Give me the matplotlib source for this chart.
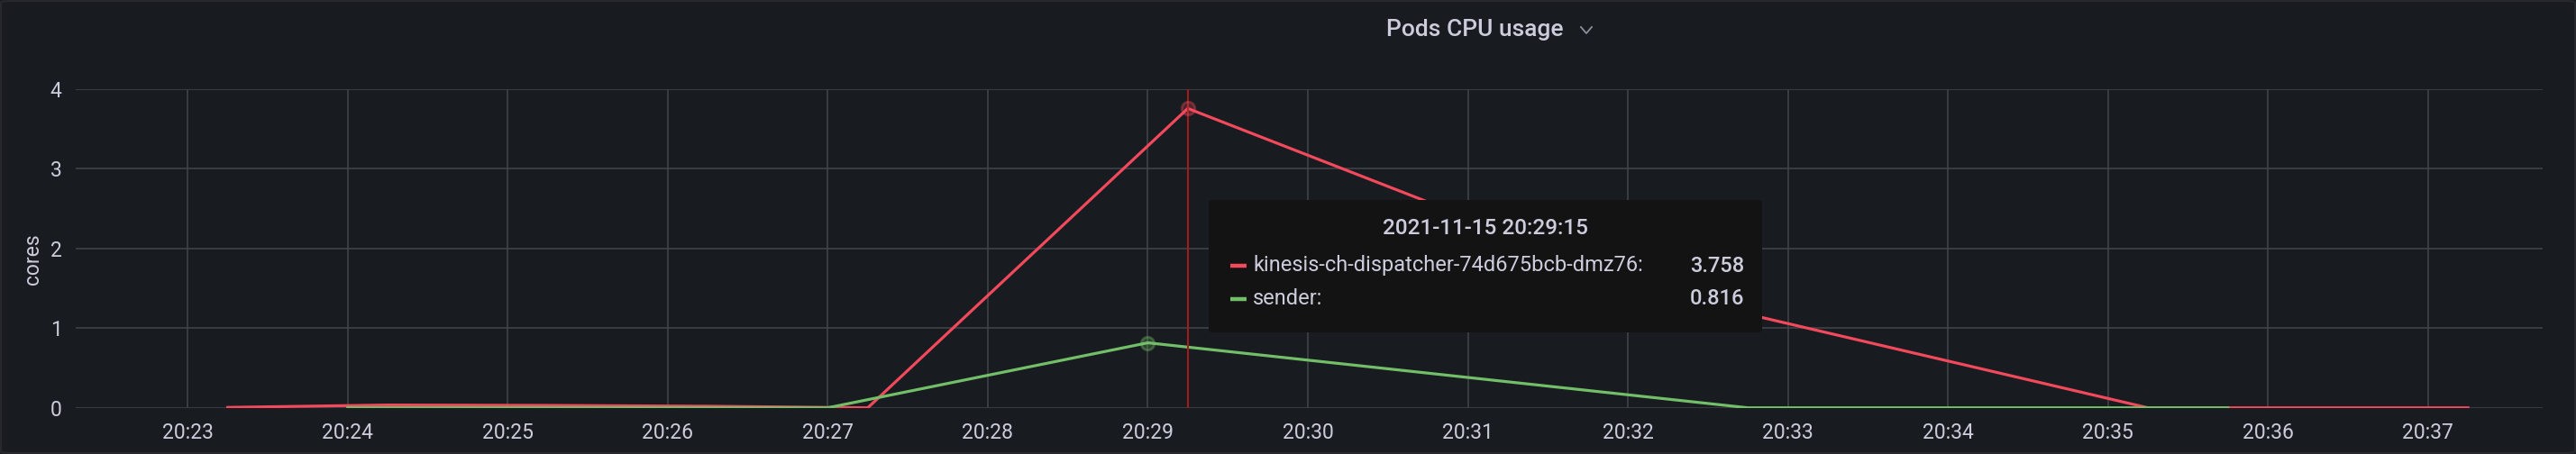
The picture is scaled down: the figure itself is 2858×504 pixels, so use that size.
import matplotlib
matplotlib.use("Agg")
import matplotlib.pyplot as plt
import matplotlib.dates as mdates
from matplotlib.patches import FancyBboxPatch
from matplotlib.lines import Line2D
import pandas as pd

# --- data (2021-11-15) ---
red_times = ["20:23:15", "20:24:15", "20:25:15", "20:26:15", "20:27:15",
             "20:29:15", "20:32:15", "20:35:15", "20:37:15"]
red_vals = [0.005, 0.035, 0.03, 0.02, 0.0, 3.758, 1.41, 0.0, 0.0]
green_times = ["20:24:00", "20:25:00", "20:26:00", "20:27:00", "20:29:00",
               "20:32:45", "20:35:45"]
green_vals = [0.0, 0.0, 0.0, 0.0, 0.816, 0.0, 0.0]
red_name = "kinesis-ch-dispatcher-74d675bcb-dmz76"
green_name = "sender"
hover_time = "20:29:15"
hover_vals = {"red": 3.758, "green": 0.816}
green_hover_time = "20:29:00"
x_start, x_end = "20:22:18", "20:37:43"
y_ticks = [0, 1, 2, 3, 4]

DAY = "2021-11-15 "
BG = "#181b1f"
TXT = "#ccccdc"
GRID = "#43454b"
RED = "#f2495c"
GREEN = "#73bf69"

plt.rcParams["font.family"] = ["Roboto", "DejaVu Sans"]


def ts(s):
    return pd.Timestamp(DAY + s)


W, H = 2858, 504
fig = plt.figure(figsize=(W / 100, H / 100), dpi=100, facecolor=BG)

# panel border
fig.add_artist(FancyBboxPatch((1 / W, 1 / H), 1 - 2 / W, 1 - 2 / H,
                              boxstyle="round,pad=0,rounding_size=0.004",
                              transform=fig.transFigure, fc="none",
                              ec="#26282d", lw=1.5))

ax = fig.add_axes([84 / W, 1 - 452.7 / H, (2821 - 84) / W, (452.7 - 99) / H])
ax.set_facecolor(BG)

ax.plot([ts(t) for t in red_times], red_vals, color=RED, lw=2.3,
        solid_joinstyle="round", zorder=3)
ax.plot([ts(t) for t in green_times], green_vals, color=GREEN, lw=2.3,
        solid_joinstyle="round", zorder=4)

# hover crosshair + point markers
ax.axvline(ts(hover_time), color="#a11d1d", lw=1.5, zorder=5)
ax.plot([ts(hover_time)], [hover_vals["red"]], "o", ms=10.5,
        mfc=(0.95, 0.29, 0.36, 0.25), mec=(0.95, 0.29, 0.36, 0.35), mew=2,
        zorder=6)
ax.plot([ts(green_hover_time)], [hover_vals["green"]], "o", ms=10.5,
        mfc=(0.45, 0.75, 0.41, 0.25), mec=(0.45, 0.75, 0.41, 0.35), mew=2,
        zorder=6)

ax.set_xlim(ts(x_start), ts(x_end))
ax.set_ylim(0, 4)
ax.set_yticks(y_ticks)
ax.xaxis.set_major_locator(mdates.MinuteLocator())
ax.xaxis.set_major_formatter(mdates.DateFormatter("%H:%M"))
ax.grid(True, color=GRID, lw=1.1)
ax.set_axisbelow(True)
for sp in ax.spines.values():
    sp.set_visible(False)
ax.tick_params(length=0, labelsize=16.5, colors=TXT, pad=12)
ax.tick_params(axis="y", pad=11)
fig.text(36 / W, 1 - 288 / H, "cores", color=TXT, fontsize=16.5,
         rotation=90, ha="center", va="center")

# title
fig.text(1636 / W, 1 - 33 / H, "Pods CPU usage", color=TXT, fontsize=19,
         fontweight="medium", ha="center", va="center")
cx, cy = 1760 / W, 1 - 34 / H
fig.add_artist(Line2D([cx - 6 / W, cx, cx + 6 / W], [cy + 4 / H, cy - 3 / H, cy + 4 / H],
                      transform=fig.transFigure, color="#8e8e9a", lw=1.3))

# tooltip
bx0, by0, bx1, by1 = 1341, 222, 1955, 369
fig.add_artist(FancyBboxPatch((bx0 / W, 1 - by1 / H), (bx1 - bx0) / W, (by1 - by0) / H,
                              boxstyle="round,pad=0,rounding_size=0.003",
                              transform=fig.transFigure, fc="#131314",
                              ec="none", zorder=10))
fig.text(1648 / W, 1 - 254 / H, DAY + hover_time, color=TXT, fontsize=17.5,
         fontweight="medium", ha="center", va="center", zorder=11)
rows = [(red_name, hover_vals["red"], RED, 295),
        (green_name, hover_vals["green"], GREEN, 332)]
for name, val, col, yy in rows:
    fig.add_artist(Line2D([1365 / W, 1383 / W], [1 - yy / H, 1 - yy / H],
                          transform=fig.transFigure, color=col, lw=3.2,
                          solid_capstyle="butt", zorder=11))
    fig.text(1390 / W, 1 - yy / H, name + ":", color=TXT, fontsize=17,
             ha="left", va="center", zorder=11)
    fig.text(1935 / W, 1 - yy / H, f"{val:.3f}", color=TXT, fontsize=17,
             fontweight="medium", ha="right", va="center", zorder=11)

fig.savefig("out.png", dpi=100, facecolor=BG)
